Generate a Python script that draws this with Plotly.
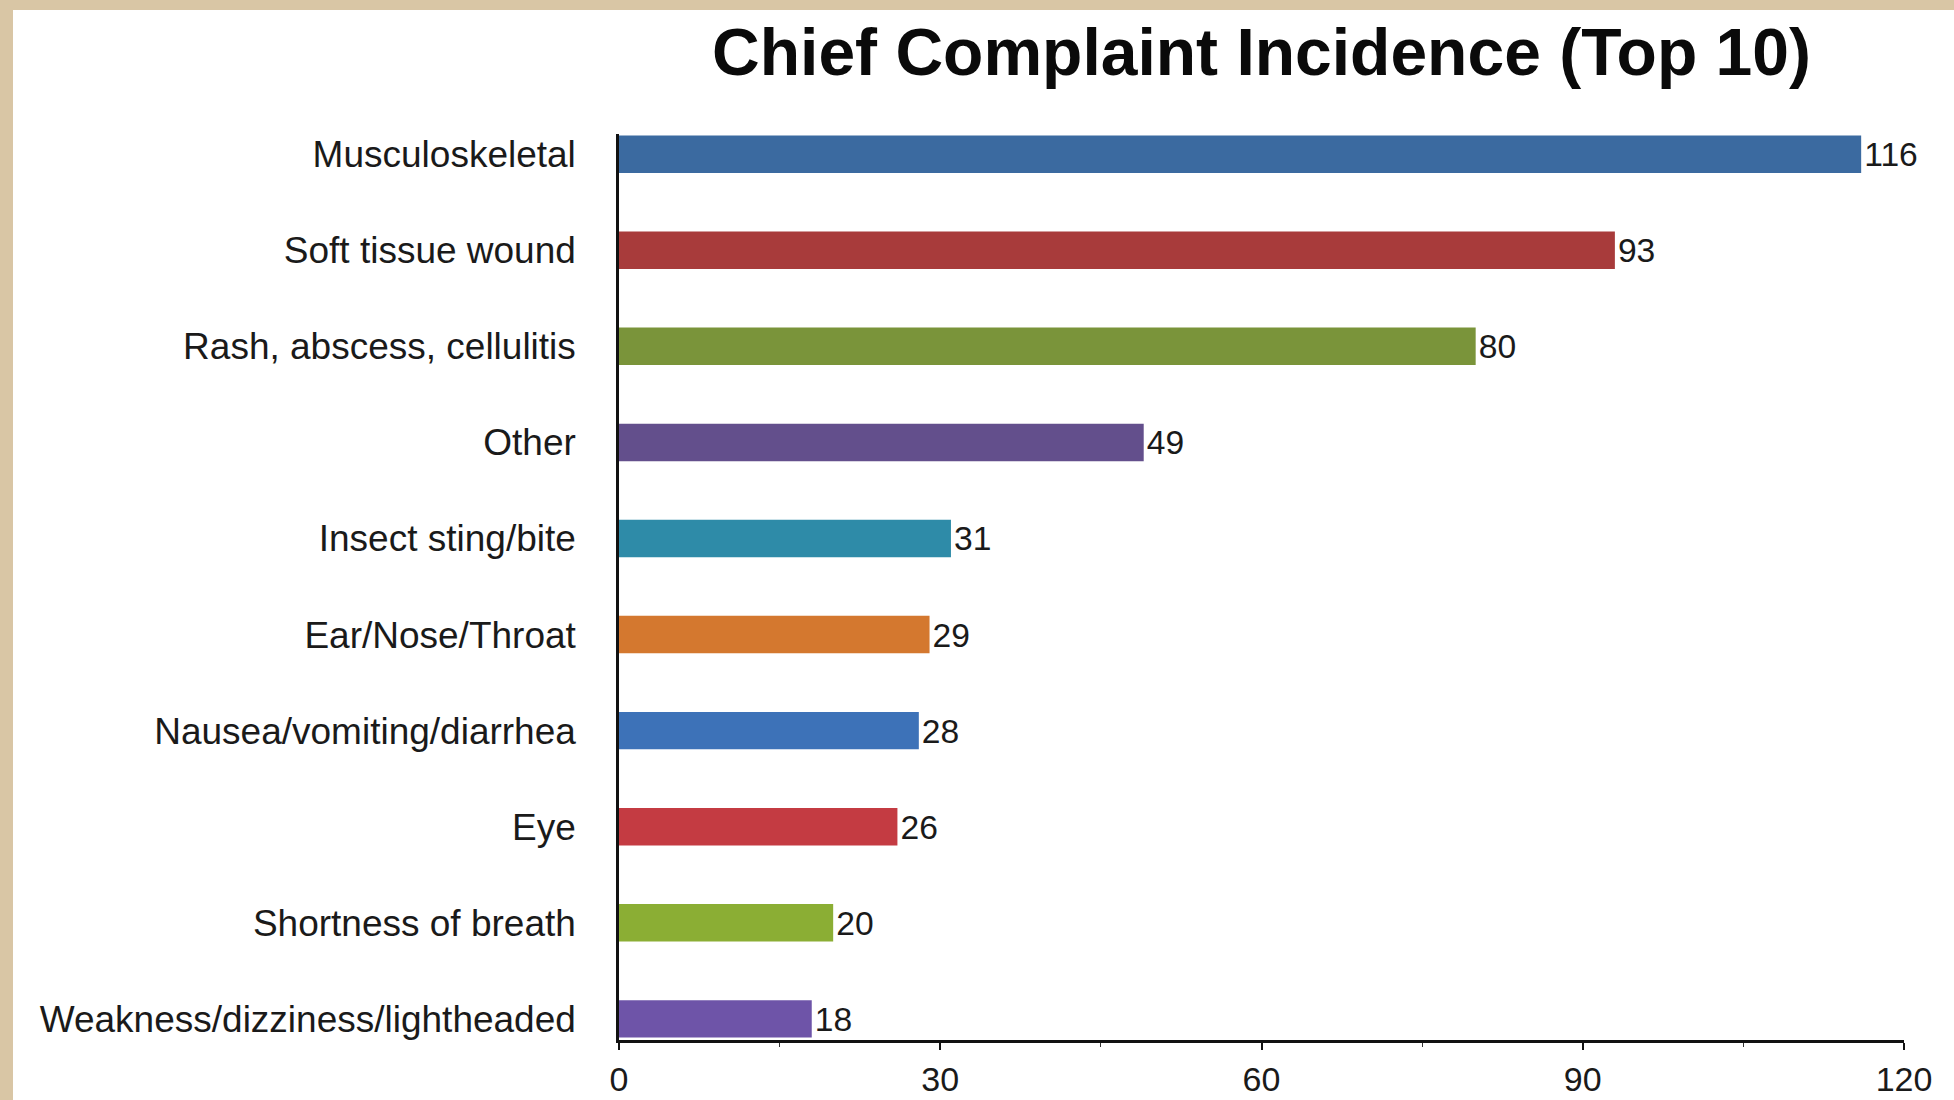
import plotly.graph_objects as go

categories = [
    "Musculoskeletal",
    "Soft tissue wound",
    "Rash, abscess, cellulitis",
    "Other",
    "Insect sting/bite",
    "Ear/Nose/Throat",
    "Nausea/vomiting/diarrhea",
    "Eye",
    "Shortness of breath",
    "Weakness/dizziness/lightheaded",
]
counts = [116, 93, 80, 49, 31, 29, 28, 26, 20, 18]
bar_colors = [
    "#3B6AA0", "#A83B3B", "#7A943A", "#634F8C", "#2E8BA8",
    "#D4782F", "#3D72B8", "#C43B42", "#8BAE34", "#6E54A8",
]
x_ticks = [0, 30, 60, 90, 120]
title_text = "Chief Complaint Incidence (Top 10)"

W, H = 1954, 1100
ML, MR, MT, MB = 619, 50, 134, 60
pw = W - ML - MR
ph = H - MT - MB

font_family = "Liberation Sans, Arial, Helvetica, sans-serif"

fig = go.Figure(
    go.Bar(
        x=counts,
        y=categories,
        orientation="h",
        marker=dict(color=bar_colors, line=dict(width=0)),
        text=[str(v) for v in counts],
        textposition="outside",
        cliponaxis=False,
        textfont=dict(family=font_family, size=35, color="#1a1a1a"),
        hoverinfo="x+y",
    )
)

# tan border (top and left), white sheet
def px_to_paper_x(px):
    return (px - ML) / pw

def px_to_paper_y(py):
    return (H - MB - py) / ph

shapes = [
    dict(type="rect", xref="paper", yref="paper", layer="below",
         x0=px_to_paper_x(0), x1=px_to_paper_x(W),
         y0=px_to_paper_y(H), y1=px_to_paper_y(0),
         fillcolor="#D9C6A5", line=dict(width=0)),
    dict(type="rect", xref="paper", yref="paper", layer="below",
         x0=px_to_paper_x(13), x1=px_to_paper_x(W + 5),
         y0=px_to_paper_y(H + 5), y1=px_to_paper_y(10),
         fillcolor="#FFFFFF", line=dict(width=0)),
]

fig.update_layout(
    width=W,
    height=H,
    margin=dict(l=ML, r=MR, t=MT, b=MB, autoexpand=False),
    paper_bgcolor="#FFFFFF",
    plot_bgcolor="rgba(0,0,0,0)",
    shapes=shapes,
    bargap=0.61,
    showlegend=False,
    title=dict(
        text="<b>" + title_text + "</b>",
        x=0.5,
        xref="paper",
        xanchor="center",
        y=1 - 52 / H,
        yref="container",
        yanchor="middle",
        font=dict(family=font_family, size=66, color="#0a0a0a"),
    ),
    xaxis=dict(
        range=[0, 120],
        tickvals=x_ticks,
        ticktext=[str(t) for t in x_ticks],
        showgrid=False,
        zeroline=False,
        showline=True,
        linecolor="#111111",
        linewidth=2.5,
        ticks="outside",
        ticklen=7,
        tickwidth=1.5,
        tickcolor="#111111",
        minor=dict(dtick=15, tick0=0, ticks="outside", ticklen=4, tickcolor="#333333", tickwidth=1),
        tickfont=dict(family=font_family, size=34, color="#1a1a1a"),
        ticklabelstandoff=0,
        fixedrange=True,
    ),
    yaxis=dict(
        type="category",
        categoryorder="array",
        categoryarray=categories,
        range=[len(categories) - 1 + 0.22, -0.21],
        showgrid=False,
        zeroline=False,
        showline=True,
        linecolor="#111111",
        linewidth=2.5,
        ticks="",
        tickfont=dict(family=font_family, size=37, color="#1a1a1a"),
        ticklabelstandoff=33,
        fixedrange=True,
    ),
)

fig.write_html(
    "out.html",
    config={"displayModeBar": False},
    post_script="document.body.style.margin='0';document.body.style.padding='0';",
)
